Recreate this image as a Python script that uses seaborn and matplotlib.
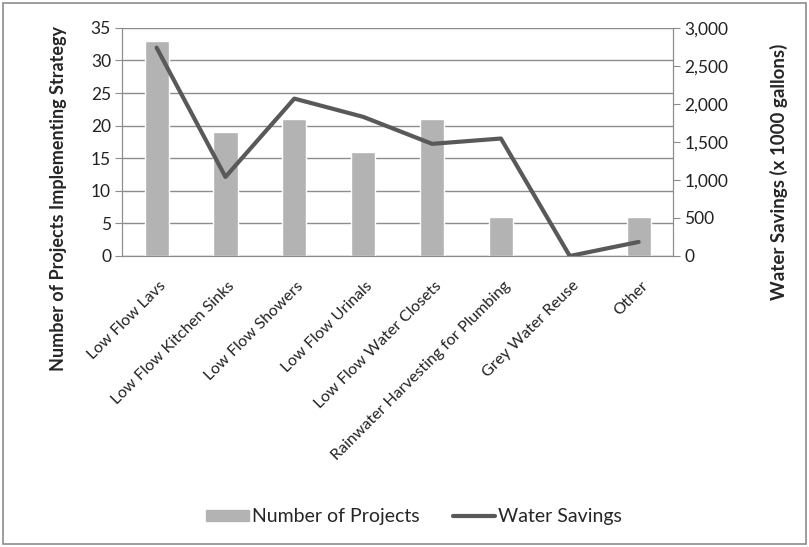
import numpy as np
import pandas as pd
import matplotlib.pyplot as plt
import matplotlib.transforms as mtransforms
import seaborn as sns
from matplotlib.patches import Rectangle, Patch
from matplotlib.lines import Line2D

categories = ['Low Flow Lavs', 'Low Flow Kitchen Sinks', 'Low Flow Showers',
              'Low Flow Urinals', 'Low Flow Water Closets',
              'Rainwater Harvesting for Plumbing', 'Grey Water Reuse', 'Other']
projects = [33, 19, 21, 16, 21, 6, 0, 6]
savings = [2740, 1040, 2070, 1830, 1475, 1545, 0, 185]

bar_color = '#b3b3b3'
line_color = '#595959'
grid_color = '#8c8c8c'


def main():
    sns.set_style('white')
    plt.rcParams['font.family'] = ['Lato', 'DejaVu Sans']

    df = pd.DataFrame({'Strategy': categories, 'Projects': projects,
                       'Savings': savings, 'pos': np.arange(len(categories))})

    fig = plt.figure(figsize=(8.09, 5.47), dpi=100)
    ax = fig.add_axes([0.151, 0.532, 0.681, 0.417])

    sns.barplot(data=df, x='Strategy', y='Projects', color=bar_color,
                width=0.35, saturation=1, ax=ax, zorder=2)
    ax.set_ylim(0, 35)
    ax.set_yticks(range(0, 36, 5))
    ax.set_xlim(-0.5, len(categories) - 0.5)
    ax.yaxis.grid(True, color=grid_color, linewidth=1, zorder=0)
    ax.set_axisbelow(True)

    ax2 = ax.twinx()
    sns.lineplot(data=df, x='pos', y='Savings', color=line_color,
                 linewidth=3, ax=ax2)
    ax2.set_ylim(0, 3000)
    ax2.set_yticks(range(0, 3001, 500))
    ax2.set_yticklabels([f'{v:,}' for v in range(0, 3001, 500)])
    ax2.set_xlim(-0.5, len(categories) - 0.5)

    # category labels, slanted like the spreadsheet chart
    ax.set_xticks(np.arange(len(categories)))
    ax.set_xticklabels(categories, rotation=45, ha='right', va='center',
                       rotation_mode='anchor', fontsize=11.5, color='#222222')
    ax.tick_params(axis='x', length=0, pad=20)
    shift = mtransforms.ScaledTranslation(7 / 100, 0, fig.dpi_scale_trans)
    for lbl in ax.get_xticklabels():
        lbl.set_transform(lbl.get_transform() + shift)
    ax.set_xticks(np.arange(-0.5, len(categories), 1), minor=True)
    ax.tick_params(axis='x', which='minor', length=5, color=grid_color,
                   direction='out')
    ax.tick_params(axis='y', length=5, color=grid_color, direction='out',
                   labelsize=12.5, left=True, pad=3, labelcolor='#222222')
    ax2.tick_params(axis='y', length=5, color=grid_color, direction='out',
                    labelsize=12.5, right=True, pad=3, labelcolor='#222222')

    ax.set_xlabel('')
    ax.set_ylabel('Number of Projects Implementing Strategy',
                  fontsize=13, fontweight='bold')
    ax.yaxis.set_label_coords(-0.10, 0.25)
    ax2.set_ylabel('Water Savings (x 1000 gallons)',
                   fontsize=13.5, fontweight='bold')
    ax2.yaxis.set_label_coords(1.176, 0.37)

    for a in (ax, ax2):
        for side in ('left', 'right', 'bottom'):
            a.spines[side].set_color(grid_color)
        a.spines['top'].set_visible(False)

    handles = [Patch(color=bar_color, label='Number of Projects'),
               Line2D([], [], color=line_color, linewidth=3,
                      label='Water Savings')]
    fig.legend(handles=handles, loc='center', bbox_to_anchor=(0.512, 0.055),
               ncol=2, frameon=False, fontsize=14, handlelength=2.2,
               handleheight=0.55, columnspacing=1.7, handletextpad=0.15)

    fig.patches.append(Rectangle((0.004, 0.005), 0.992, 0.99,
                                 transform=fig.transFigure, fill=False,
                                 edgecolor='#8c8c8c', linewidth=1.2))

    fig.savefig('out.png', dpi=100)


if __name__ == '__main__':
    main()
